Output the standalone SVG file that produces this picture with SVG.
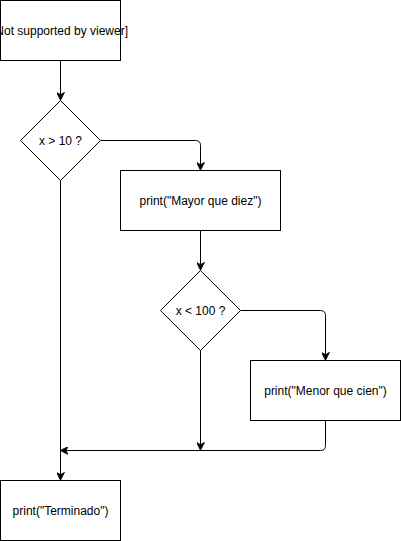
<svg xmlns="http://www.w3.org/2000/svg" width="401" height="541" viewBox="0 0 401 541">
<style>
.n{fill:#fff;stroke:#000;stroke-width:1}
.t{font-family:"Liberation Sans",Arial,sans-serif;font-size:12px;fill:#000;text-anchor:middle}
.e{fill:none;stroke:#000;stroke-width:1}
</style>
<defs>
<marker id="a" viewBox="0 0 10 10" refX="9" refY="5" markerWidth="8" markerHeight="8" markerUnits="userSpaceOnUse" orient="auto">
<path d="M0,0 L10,5 L0,10 L3,5 Z" fill="#000" stroke="#000" stroke-width="1"/>
</marker>
</defs>
<rect width="401" height="541" fill="#fff"/>
<g id="connectors">
<path class="e" d="M60.5,60.5 V99.5" marker-end="url(#a)"/>
<path class="e" d="M100.5,140.5 H195.5 Q200.5,140.5 200.5,145.5 V169.5" marker-end="url(#a)"/>
<path class="e" d="M200.5,230.5 V269.5" marker-end="url(#a)"/>
<path class="e" d="M240.5,310.5 H320.5 Q325.5,310.5 325.5,315.5 V359.5" marker-end="url(#a)"/>
<path class="e" d="M200.5,350.5 V449.5" marker-end="url(#a)"/>
<path class="e" d="M325.5,420.5 V445.5 Q325.5,450.5 320.5,450.5 H61" marker-end="url(#a)"/>
<path class="e" d="M60.5,180.5 V479.5" marker-end="url(#a)"/>
</g>
<g id="start">
<rect class="n" x="0.5" y="0.5" width="120" height="60"/>
<text class="t" x="60" y="34.5">[Not supported by viewer]</text>
</g>
<g id="dec1">
<path class="n" d="M60.5,100.5 L100.5,140.5 L60.5,180.5 L20.5,140.5 Z"/>
<text class="t" x="60.5" y="144.5">x &gt; 10 ?</text>
</g>
<g id="mayor">
<rect class="n" x="120.5" y="170.5" width="160" height="60"/>
<text class="t" x="200.5" y="204.5">print("Mayor que diez")</text>
</g>
<g id="dec2">
<path class="n" d="M200.5,270.5 L240.5,310.5 L200.5,350.5 L160.5,310.5 Z"/>
<text class="t" x="200.5" y="314.5">x &lt; 100 ?</text>
</g>
<g id="menor">
<rect class="n" x="250.5" y="360.5" width="150" height="60"/>
<text class="t" x="325.5" y="394.5">print("Menor que cien")</text>
</g>
<g id="fin">
<rect class="n" x="0.5" y="480.5" width="120" height="60"/>
<text class="t" x="60.5" y="514.5">print("Terminado")</text>
</g>
</svg>
